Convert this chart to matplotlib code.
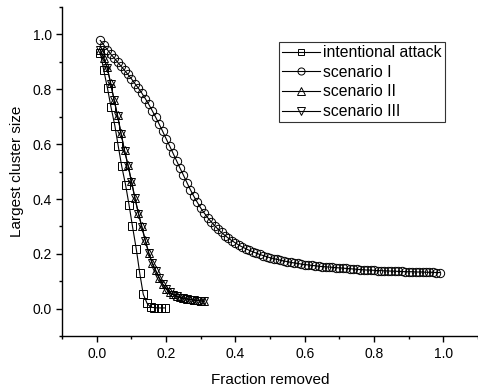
import matplotlib
matplotlib.use('Agg')
import matplotlib.pyplot as plt
from matplotlib.ticker import MultipleLocator

plt.rcParams['font.family'] = ['Liberation Sans', 'DejaVu Sans']

# intentional attack
x_attack = [0.01, 0.02, 0.031, 0.041, 0.052, 0.062, 0.072, 0.083, 0.093, 0.103,
            0.114, 0.124, 0.134, 0.145, 0.155, 0.166, 0.176, 0.186, 0.197]
y_attack = [0.934, 0.87, 0.803, 0.735, 0.668, 0.592, 0.519, 0.452, 0.379, 0.30,
            0.217, 0.129, 0.053, 0.02, 0.006, 0.004, 0.003, 0.003, 0.003]

# scenario I
x_s1 = [0.01, 0.02, 0.03, 0.04, 0.05, 0.06, 0.07, 0.08, 0.09, 0.10,
        0.11, 0.12, 0.13, 0.14, 0.15, 0.16, 0.17, 0.18, 0.19, 0.20,
        0.21, 0.22, 0.23, 0.24, 0.25, 0.26, 0.27, 0.28, 0.29, 0.30,
        0.31, 0.32, 0.33, 0.34, 0.35, 0.36, 0.37, 0.38, 0.39, 0.40,
        0.41, 0.42, 0.43, 0.44, 0.45, 0.46, 0.47, 0.48, 0.49, 0.50,
        0.51, 0.52, 0.53, 0.54, 0.55, 0.56, 0.57, 0.58, 0.59, 0.60,
        0.61, 0.62, 0.63, 0.64, 0.65, 0.66, 0.67, 0.68, 0.69, 0.70,
        0.71, 0.72, 0.73, 0.74, 0.75, 0.76, 0.77, 0.78, 0.79, 0.80,
        0.81, 0.82, 0.83, 0.84, 0.85, 0.86, 0.87, 0.88, 0.89, 0.90,
        0.91, 0.92, 0.93, 0.94, 0.95, 0.96, 0.97, 0.98, 0.99]
y_s1 = [0.978, 0.962, 0.945, 0.929, 0.914, 0.899, 0.884, 0.869, 0.854, 0.838,
        0.821, 0.804, 0.786, 0.766, 0.745, 0.722, 0.698, 0.673, 0.647, 0.620,
        0.594, 0.567, 0.540, 0.513, 0.487, 0.460, 0.434, 0.410, 0.388, 0.367,
        0.349, 0.332, 0.317, 0.303, 0.290, 0.278, 0.267, 0.257, 0.248, 0.240,
        0.232, 0.225, 0.219, 0.213, 0.208, 0.203, 0.198, 0.194, 0.190, 0.186,
        0.183, 0.180, 0.177, 0.174, 0.172, 0.169, 0.167, 0.165, 0.163, 0.161,
        0.160, 0.158, 0.157, 0.155, 0.154, 0.153, 0.152, 0.151, 0.150, 0.149,
        0.148, 0.147, 0.146, 0.145, 0.144, 0.143, 0.142, 0.141, 0.141, 0.140,
        0.139, 0.139, 0.138, 0.138, 0.137, 0.137, 0.136, 0.136, 0.135, 0.135,
        0.135, 0.134, 0.134, 0.134, 0.133, 0.133, 0.133, 0.132, 0.132]

# scenario II and III
x_s23 = [0.01, 0.02, 0.03, 0.04, 0.05, 0.06, 0.07, 0.08, 0.09, 0.10,
         0.11, 0.12, 0.13, 0.14, 0.15, 0.16, 0.17, 0.18, 0.19, 0.20,
         0.21, 0.22, 0.23, 0.24, 0.25, 0.26, 0.27, 0.28, 0.29, 0.30, 0.31]
y_s2 = [0.945, 0.915, 0.880, 0.823, 0.762, 0.705, 0.640, 0.578, 0.525, 0.466,
        0.405, 0.350, 0.300, 0.250, 0.204, 0.167, 0.140, 0.113, 0.091, 0.073,
        0.061, 0.052, 0.046, 0.042, 0.039, 0.036, 0.034, 0.032, 0.031, 0.029, 0.028]
y_s3 = [0.944, 0.913, 0.878, 0.821, 0.760, 0.702, 0.638, 0.576, 0.522, 0.463,
        0.402, 0.347, 0.297, 0.247, 0.202, 0.165, 0.138, 0.111, 0.090, 0.072,
        0.060, 0.051, 0.045, 0.041, 0.038, 0.035, 0.033, 0.031, 0.030, 0.028, 0.027]

fig = plt.figure(figsize=(4.78, 3.9), dpi=100)
ax = fig.add_axes([0.130, 0.138, 0.870, 0.844])

style = dict(color='black', lw=0.8, mfc='none', mec='black', mew=0.7)
ax.plot(x_attack, y_attack, marker='s', ms=5.5, label='intentional attack', **style)
ax.plot(x_s1, y_s1, marker='o', ms=6, label='scenario I', **style)
ax.plot(x_s23, y_s2, marker='^', ms=6, label='scenario II', **style)
ax.plot(x_s23, y_s3, marker='v', ms=6, label='scenario III', **style)

ax.set_xlim(-0.1, 1.1)
ax.set_ylim(-0.1, 1.1)
ax.set_xticks([0.0, 0.2, 0.4, 0.6, 0.8, 1.0])
ax.set_yticks([0.0, 0.2, 0.4, 0.6, 0.8, 1.0])
ax.xaxis.set_minor_locator(MultipleLocator(0.1))
ax.yaxis.set_minor_locator(MultipleLocator(0.1))
ax.xaxis.set_major_formatter(plt.FormatStrFormatter('%.1f'))
ax.yaxis.set_major_formatter(plt.FormatStrFormatter('%.1f'))

for s in ['top', 'right']:
    ax.spines[s].set_visible(False)
for s in ['left', 'bottom']:
    ax.spines[s].set_linewidth(1.0)
ax.tick_params(which='major', direction='out', length=4, width=1.0, labelsize=10)
ax.tick_params(which='minor', direction='out', length=2.5, width=1.0)

ax.set_xlabel('Fraction removed', fontsize=11, labelpad=9)
ax.set_ylabel('Largest cluster size', fontsize=11, labelpad=6)

leg = ax.legend(loc='upper left', bbox_to_anchor=(0.522, 0.894), fontsize=11.3,
                frameon=True, fancybox=False, framealpha=1, edgecolor='#333333',
                handlelength=2.4, handletextpad=0.2, borderpad=0.2,
                labelspacing=0.3, borderaxespad=0, markerscale=0.85)
leg.get_frame().set_linewidth(0.8)

fig.savefig('out.png', dpi=100)
